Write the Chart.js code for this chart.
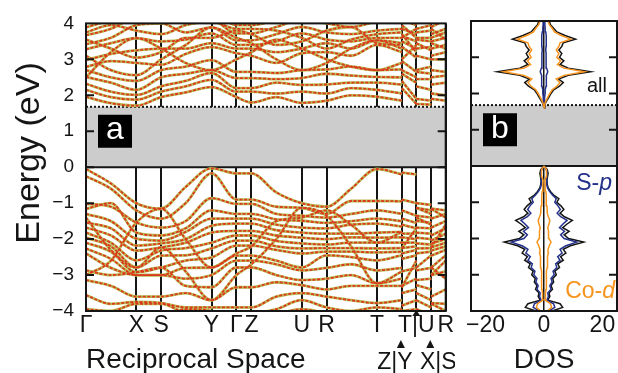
<!DOCTYPE html>
<html>
<head>
<meta charset="utf-8">
<script src="https://cdn.jsdelivr.net/npm/chart.js@4.4.1/dist/chart.umd.min.js"></script>
<style>
  html, body { margin: 0; padding: 0; background: #fff; }
  #wrap { position: relative; width: 618px; height: 373px; }
  #bands { position: absolute; left: 0; top: 0; }
  #dos { position: absolute; left: 455px; top: 0; }
</style>
</head>
<body>
<div id="wrap">
  <canvas id="bands" width="455" height="373"></canvas>
  <canvas id="dos" width="163" height="373"></canvas>
</div>
<script>
// k-path: distance along path, high-symmetry points and a few points in between
const kPos = [0, 25, 50.5, 75.5, 100, 126, 151, 166, 191, 216.5, 241.5, 266, 292, 317, 317, 331.5, 331.5, 346.5, 346.5, 361];
const kBreaks = [13, 15, 17]; // path jumps right after these indices
const symPos = [0, 50.5, 75.5, 126, 151, 166, 216.5, 241.5, 292, 317, 331.5, 346.5, 361];
const symLabels = ['Γ', 'X', 'S', 'Y', 'Γ', 'Z', 'U', 'R', 'T', '', 'T|U', '', 'R'];
const jumpPos = [317, 346.5];
const jumpLabels = ['Z|Y', 'X|S'];
const gapTop = 1.68;

// bands, energies (eV) at kPos
const condBands = [
  [1.96, 1.78, 1.71, 1.95, 2.08, 2.23, 1.95, 1.80, 1.95, 1.79, 1.85, 2.00, 1.96, 1.85, 2.20, 1.76, 1.76, 1.74, 1.90, 1.85],
  [2.15, 1.95, 1.88, 2.10, 2.25, 2.43, 2.10, 2.10, 2.05, 2.10, 2.05, 2.20, 2.15, 2.05, 2.40, 1.90, 1.90, 1.85, 2.05, 2.00],
  [2.32, 2.10, 2.01, 2.25, 2.40, 2.62, 2.20, 2.20, 2.35, 2.29, 2.30, 2.35, 2.35, 2.30, 2.60, 2.35, 2.25, 2.15, 2.30, 2.35],
  [2.51, 2.35, 2.15, 2.50, 2.60, 2.70, 2.48, 2.48, 2.45, 2.48, 2.60, 2.55, 2.51, 2.50, 2.70, 2.50, 2.45, 2.45, 2.50, 2.55],
  [2.70, 2.50, 2.40, 2.70, 2.80, 2.98, 2.65, 2.65, 2.62, 2.70, 2.72, 2.80, 2.70, 2.72, 2.95, 2.65, 2.65, 2.60, 2.70, 2.65],
  [2.79, 2.95, 2.90, 2.85, 3.15, 3.34, 3.17, 3.10, 2.90, 3.17, 3.20, 3.10, 3.40, 3.20, 3.35, 3.05, 3.10, 3.00, 3.10, 3.20],
  [2.98, 3.15, 3.25, 3.30, 3.30, 3.45, 3.30, 3.30, 3.20, 3.30, 3.45, 3.30, 3.53, 3.45, 3.50, 3.30, 3.30, 3.35, 3.30, 3.40],
  [3.28, 3.45, 3.59, 3.50, 3.55, 3.72, 3.40, 3.40, 3.50, 3.72, 3.55, 3.50, 3.60, 3.60, 3.65, 3.50, 3.55, 3.50, 3.50, 3.60],
  [3.42, 3.60, 3.95, 4.00, 3.75, 3.89, 3.53, 3.53, 3.70, 3.90, 3.75, 3.70, 3.80, 3.85, 3.85, 3.70, 3.75, 3.80, 3.70, 3.85],
  [3.67, 3.85, 4.20, 4.30, 4.10, 4.10, 3.72, 3.72, 3.90, 4.10, 4.00, 3.90, 4.05, 4.10, 4.10, 3.95, 4.00, 4.10, 3.90, 4.10],
  [3.89, 4.10, 4.40, 4.50, 4.30, 4.30, 3.95, 3.95, 4.10, 4.30, 4.20, 4.20, 4.30, 4.30, 4.30, 4.20, 4.20, 4.30, 4.20, 4.30],
  [3.10, 2.70, 2.56, 3.00, 3.40, 3.89, 3.60, 3.45, 3.00, 2.70, 2.90, 3.30, 3.53, 3.30, 3.70, 3.20, 2.70, 2.80, 3.00, 3.00],
  [2.50, 3.20, 3.59, 3.30, 2.90, 2.70, 3.00, 3.20, 3.55, 3.30, 3.00, 2.80, 2.70, 2.90, 3.00, 3.40, 3.60, 3.60, 3.45, 3.30],
  [3.55, 3.30, 3.05, 3.20, 3.60, 3.60, 3.80, 3.70, 3.40, 3.50, 3.80, 3.90, 3.45, 3.40, 3.60, 3.85, 3.45, 3.25, 3.60, 3.75],
  [3.75, 3.95, 3.80, 3.70, 3.95, 4.05, 3.85, 3.85, 3.80, 3.60, 3.30, 3.55, 3.70, 3.75, 3.95, 3.60, 3.85, 3.95, 3.85, 3.55]
];
const valBands = [
  [-0.05, -0.45, -1.00, -1.15, -0.55, -0.03, -0.17, -0.17, -0.70, -1.00, -1.10, -0.60, -0.05, -0.20, -0.15, -0.20, -1.00, -1.05, -1.15, -1.20],
  [-0.25, -0.60, -1.20, -1.43, -1.00, -0.17, -0.90, -0.90, -1.10, -1.13, -1.30, -0.94, -0.94, -0.95, -0.90, -1.00, -1.13, -1.20, -1.43, -1.30],
  [-1.02, -1.10, -1.54, -1.68, -1.50, -0.86, -1.02, -1.02, -1.30, -1.35, -1.40, -1.30, -1.20, -1.30, -1.20, -1.35, -1.35, -1.40, -1.68, -1.50],
  [-1.16, -1.00, -1.82, -1.90, -1.70, -1.20, -1.30, -1.30, -1.45, -1.49, -1.55, -1.50, -1.43, -1.50, -1.43, -1.55, -1.49, -1.55, -1.90, -1.70],
  [-1.30, -1.50, -1.99, -2.04, -1.80, -1.43, -1.43, -1.43, -1.60, -1.68, -1.70, -1.60, -1.57, -1.65, -1.60, -1.70, -1.68, -1.70, -2.04, -1.85],
  [-1.54, -1.70, -2.18, -2.12, -2.00, -1.63, -1.57, -1.57, -1.75, -1.82, -1.85, -1.85, -1.82, -1.80, -1.85, -1.85, -1.82, -1.85, -2.12, -2.00],
  [-1.68, -1.90, -2.32, -2.23, -2.10, -1.82, -1.77, -1.77, -1.90, -1.96, -2.00, -1.95, -1.96, -1.95, -1.95, -2.00, -1.96, -2.00, -2.23, -2.10],
  [-1.82, -2.10, -2.59, -2.32, -2.25, -2.10, -1.90, -1.90, -2.05, -2.12, -2.15, -2.10, -2.10, -2.10, -2.10, -2.10, -2.12, -2.15, -2.32, -2.20],
  [-1.96, -2.20, -2.79, -2.46, -2.45, -2.26, -2.04, -2.04, -2.20, -2.26, -2.25, -2.25, -2.26, -2.25, -2.25, -2.20, -2.26, -2.25, -2.46, -2.30],
  [-2.10, -2.35, -2.92, -2.79, -2.60, -2.51, -2.18, -2.18, -2.30, -2.40, -2.35, -2.35, -2.37, -2.35, -2.40, -2.30, -2.40, -2.35, -2.79, -2.45],
  [-2.26, -2.55, -3.00, -3.00, -2.80, -2.79, -2.46, -2.46, -2.60, -2.79, -2.45, -2.50, -2.59, -2.45, -2.55, -2.45, -2.79, -2.45, -3.00, -2.60],
  [-2.40, -2.80, -3.00, -3.00, -3.10, -3.00, -2.60, -2.60, -2.70, -2.87, -2.80, -2.70, -2.87, -2.80, -2.90, -2.80, -2.87, -2.80, -3.00, -2.90],
  [-2.87, -3.00, -2.92, -2.79, -3.30, -3.34, -2.79, -2.79, -3.00, -3.14, -3.10, -3.00, -3.23, -3.10, -3.30, -3.10, -3.14, -3.10, -2.79, -3.10],
  [-3.14, -3.30, -3.60, -3.60, -3.50, -3.70, -3.34, -3.34, -3.20, -3.28, -3.40, -3.30, -3.30, -3.30, -3.50, -3.40, -3.28, -3.40, -3.60, -3.40],
  [-3.56, -3.80, -3.75, -3.78, -3.90, -3.90, -3.90, -3.90, -3.60, -3.50, -3.60, -3.70, -3.78, -3.70, -3.85, -3.70, -3.50, -3.70, -3.78, -3.80],
  [-3.95, -4.00, -3.80, -3.80, -4.05, -4.10, -4.20, -4.10, -3.95, -3.70, -3.90, -4.00, -3.90, -3.95, -4.00, -3.95, -3.70, -3.90, -3.80, -4.00],
  [-4.10, -4.20, -4.30, -4.20, -3.95, -4.00, -4.30, -4.30, -4.10, -3.95, -4.05, -4.10, -4.10, -4.10, -4.20, -4.10, -3.95, -4.10, -4.20, -4.10],
  [-1.40, -2.30, -2.79, -2.23, -2.90, -3.70, -3.00, -2.70, -2.00, -1.13, -1.35, -2.20, -3.23, -2.90, -3.34, -2.60, -1.13, -1.30, -2.23, -1.60],
  [-3.00, -2.60, -1.54, -1.16, -2.00, -2.79, -2.40, -2.20, -1.50, -1.40, -1.20, -1.60, -2.10, -1.80, -2.26, -1.70, -1.40, -1.60, -1.16, -1.40]
];

// DOS (states/eV), spin up drawn right, spin down mirrored left
const dosEVal = [-4.0, -3.9, -3.8, -3.7, -3.6, -3.5, -3.4, -3.3, -3.2, -3.1, -3.0, -2.9, -2.8, -2.7, -2.6, -2.5, -2.4, -2.3, -2.2, -2.1, -2.0,
                 -1.9, -1.8, -1.7, -1.6, -1.5, -1.4, -1.3, -1.2, -1.1, -1.0, -0.9, -0.8, -0.7, -0.6, -0.5, -0.4, -0.3, -0.2, -0.1, 0.0];
const dosAllVal = [2.8, 6.4, 5.5, 1.3, 2.0, 1.7, 2.9, 2.4, 3.3, 3.0, 4.2, 3.7, 5.3, 4.7, 6.6, 5.7, 7.5, 6.6, 9.0, 13.6, 8.4,
                   6.9, 8.6, 6.4, 7.9, 9.7, 7.0, 5.5, 6.8, 5.8, 4.4, 5.1, 3.3, 2.2, 1.4, 1.1, 1.0, 1.2, 1.4, 1.1, 0];
const dosSpVal = [1.6, 3.7, 3.3, 1.0, 1.5, 1.3, 2.4, 2.0, 2.8, 2.4, 3.5, 3.1, 4.4, 4.0, 5.5, 4.7, 6.2, 5.5, 7.5, 11.2, 6.9,
                  5.7, 7.0, 5.3, 6.5, 7.9, 5.7, 4.5, 5.6, 4.8, 3.7, 4.2, 2.9, 1.9, 1.2, 0.9, 0.8, 1.0, 1.1, 0.8, 0];
const dosCoVal = [1.1, 2.6, 2.2, 0.4, 0.6, 0.4, 0.7, 0.7, 0.8, 0.8, 0.9, 0.9, 1.1, 1.1, 1.3, 1.2, 1.5, 1.4, 1.8, 2.4, 1.7,
                  1.4, 1.7, 1.3, 1.7, 2.0, 1.5, 1.1, 1.1, 1.0, 0.8, 0.8, 0.7, 0.6, 0.4, 0.4, 0.3, 0.7, 1.0, 0.7, 0];
const dosECond = [1.6, 1.7, 1.8, 1.9, 2.0, 2.1, 2.2, 2.3, 2.4, 2.5, 2.6, 2.7, 2.8, 2.9, 3.0, 3.1, 3.2, 3.3, 3.4, 3.5, 3.6, 3.7, 3.8, 3.9, 4.0];
const dosAllCond = [0, 0.3, 0.9, 1.7, 2.4, 3.3, 5.3, 6.6, 5.0, 8.3, 16.0, 8.3, 5.5, 6.8, 5.3, 6.1, 5.1, 6.1, 6.6, 10.8, 7.2, 4.4, 3.3, 2.2, 1.8];
const dosCoCond = [0, 0.2, 0.7, 1.3, 2.0, 2.8, 4.4, 5.5, 4.2, 6.9, 13.8, 6.8, 4.6, 5.7, 4.4, 5.1, 4.2, 5.1, 5.5, 9.1, 5.9, 3.6, 2.8, 1.8, 1.4];
const dosSpCond = [0, 0.1, 0.2, 0.3, 0.4, 0.4, 0.7, 0.8, 0.7, 0.9, 1.3, 0.9, 0.7, 0.8, 0.7, 0.7, 0.6, 0.7, 0.7, 0.9, 0.7, 0.6, 0.4, 0.3, 0.3];
const dosTicks = [-20, 0, 20];

const FONT = '"Liberation Sans", Arial, Helvetica, sans-serif';
const INK = '#151515';
const ORANGE = '#f7941d';
const NAVY = '#23318a';
Chart.defaults.font.family = FONT;
Chart.defaults.color = INK;

function bandPoints(vals) {
  const pts = [];
  vals.forEach((e, i) => {
    pts.push({ x: kPos[i], y: e });
    if (kBreaks.includes(i)) pts.push({ x: kPos[i], y: null });
  });
  return pts;
}

// green-yellow line under a red dash, like the original print
const bandSets = [];
[...condBands, ...valBands].forEach(b => {
  bandSets.push({ data: bandPoints(b), borderColor: '#b9bc52', borderWidth: 2.8, pointRadius: 0, order: 2,
    cubicInterpolationMode: 'monotone', spanGaps: false });
  bandSets.push({ data: bandPoints(b), borderColor: '#dc3820', borderWidth: 1.8, borderDash: [3, 1.6], pointRadius: 0, order: 1,
    cubicInterpolationMode: 'monotone', spanGaps: false });
});

function dosSide(valVals, condVals, sign) {
  const pts = dosEVal.map((e, i) => ({ x: sign * valVals[i], y: e }));
  pts.push({ x: null, y: 0.8 });
  dosECond.forEach((e, i) => pts.push({ x: sign * condVals[i], y: e }));
  return pts;
}
const dosSets = [];
[[dosAllVal, dosAllCond, INK, 3], [dosSpVal, dosSpCond, NAVY, 2], [dosCoVal, dosCoCond, ORANGE, 1]].forEach(([v, c, col, ord]) => {
  [1, -1].forEach(s => dosSets.push({ data: dosSide(v, c, s), borderColor: col, borderWidth: 1.5, order: ord,
    pointRadius: 0, tension: 0, spanGaps: false }));
});

// shared drawing helpers
function drawGap(chart) {
  const { ctx, chartArea: a, scales: { y } } = chart;
  const y0 = y.getPixelForValue(0), y1 = y.getPixelForValue(gapTop);
  ctx.save();
  ctx.fillStyle = '#cccccc';
  ctx.fillRect(a.left, y1, a.right - a.left, y0 - y1);
  ctx.strokeStyle = INK;
  ctx.lineWidth = 2;
  ctx.beginPath(); ctx.moveTo(a.left, y0); ctx.lineTo(a.right, y0); ctx.stroke();
  ctx.setLineDash([2, 2]);
  ctx.beginPath(); ctx.moveTo(a.left, y1); ctx.lineTo(a.right, y1); ctx.stroke();
  ctx.restore();
}
function drawFrame(chart) {
  const { ctx, chartArea: a, scales: { y } } = chart;
  ctx.save();
  ctx.strokeStyle = INK;
  ctx.lineWidth = 2;
  ctx.strokeRect(a.left, a.top, a.right - a.left, a.bottom - a.top);
  ctx.beginPath();
  y.ticks.forEach(t => {
    if (t.value <= y.min || t.value >= y.max) return;
    const py = y.getPixelForValue(t.value);
    ctx.moveTo(a.left, py); ctx.lineTo(a.left + 8, py);
    ctx.moveTo(a.right, py); ctx.lineTo(a.right - 8, py);
  });
  ctx.stroke();
  ctx.restore();
}
function drawTag(chart, letter) {
  const { ctx, chartArea: a, scales: { y } } = chart;
  const cy = y.getPixelForValue(1);
  ctx.save();
  ctx.fillStyle = '#000';
  ctx.fillRect(a.left + 12, cy - 16.5, 34, 33);
  ctx.fillStyle = '#fff';
  ctx.font = '32px ' + FONT;
  ctx.textAlign = 'center';
  ctx.fillText(letter, a.left + 29, cy + 8);
  ctx.restore();
}
function upTriangle(ctx, x, tipY, h, w) {
  ctx.beginPath();
  ctx.moveTo(x, tipY);
  ctx.lineTo(x - w, tipY + h);
  ctx.lineTo(x + w, tipY + h);
  ctx.closePath();
  ctx.fill();
}
function mixedText(ctx, parts, rightX, baseY, size, color) {
  // parts: [text, italic]
  const fonts = parts.map(p => (p[1] ? 'italic ' : '') + size + 'px ' + FONT);
  let w = 0;
  parts.forEach((p, i) => { ctx.font = fonts[i]; w += ctx.measureText(p[0]).width; });
  let x = rightX - w;
  ctx.fillStyle = color;
  ctx.textAlign = 'left';
  parts.forEach((p, i) => { ctx.font = fonts[i]; ctx.fillText(p[0], x, baseY); x += ctx.measureText(p[0]).width; });
}

const bandDecor = {
  id: 'bandDecor',
  beforeDatasetsDraw: chart => drawGap(chart),
  afterDraw(chart) {
    const { ctx, chartArea: a, scales: { x } } = chart;
    drawFrame(chart);
    drawTag(chart, 'a');
    ctx.save();
    ctx.fillStyle = INK;
    // axis title sits a bit above the axis centre in the original
    ctx.font = '34px ' + FONT;
    ctx.textAlign = 'center';
    ctx.textBaseline = 'middle';
    ctx.translate(30, 153);
    ctx.rotate(-Math.PI / 2);
    ctx.fillText('Energy (eV)', 0, 0);
    ctx.setTransform(1, 0, 0, 1, 0, 0);
    ctx.textBaseline = 'alphabetic';
    upTriangle(ctx, x.getPixelForValue(331.5), a.bottom - 1, 6, 4);
    ctx.font = '23px ' + FONT;
    jumpPos.forEach((k, i) => {
      const px = x.getPixelForValue(k);
      upTriangle(ctx, px - 1, 340, 8, 4);
      ctx.fillText(jumpLabels[i], px + (i === 0 ? -7 : 7), 369);
    });
    ctx.restore();
  }
};

const dosDecor = {
  id: 'dosDecor',
  beforeDatasetsDraw: chart => drawGap(chart),
  afterDraw(chart) {
    const { ctx } = chart;
    drawFrame(chart);
    drawTag(chart, 'b');
    ctx.save();
    mixedText(ctx, [['all', false]], 152, 92, 20, INK);
    mixedText(ctx, [['S-', false], ['p', true]], 157, 190, 23, NAVY);
    mixedText(ctx, [['Co-', false], ['d', true]], 160, 298, 23, ORANGE);
    ctx.restore();
  }
};

new Chart(document.getElementById('bands'), {
  type: 'line',
  data: { datasets: bandSets },
  options: {
    responsive: false,
    animation: false,
    events: [],
    layout: { padding: { top: 21, right: 9, left: 0, bottom: 0 } },
    plugins: { legend: { display: false }, tooltip: { enabled: false } },
    scales: {
      x: {
        type: 'linear', min: 0, max: 361, position: 'bottom', z: 1,
        afterBuildTicks: s => { s.ticks = symPos.map(v => ({ value: v })); },
        afterFit: s => { s.height = 62; },
        grid: { color: INK, lineWidth: 2, drawTicks: false },
        border: { display: false },
        ticks: { autoSkip: false, maxRotation: 0, padding: 1, font: { size: 23 },
          callback: (v, i) => symLabels[i] },
        title: { display: true, text: 'Reciprocal Space', align: 'start', font: { size: 28 },
          padding: { top: 0, bottom: -4 } }
      },
      y: {
        type: 'linear', min: -4, max: 4,
        afterFit: s => { s.width = 86; },
        grid: { display: false, drawTicks: false },
        border: { display: false },
        ticks: { stepSize: 1, padding: 12, font: { size: 19 },
          callback: v => (v < 0 ? '\u2212' + (-v) : String(v)) }
      }
    }
  },
  plugins: [bandDecor]
});

new Chart(document.getElementById('dos'), {
  type: 'line',
  data: { datasets: dosSets },
  options: {
    indexAxis: 'y',
    responsive: false,
    animation: false,
    events: [],
    layout: { padding: { top: 21, right: 1, left: 0, bottom: 0 } },
    plugins: { legend: { display: false }, tooltip: { enabled: false } },
    scales: {
      x: {
        type: 'linear', min: -25, max: 25, position: 'bottom', z: 1,
        afterBuildTicks: s => { s.ticks = dosTicks.map(v => ({ value: v })); },
        afterFit: s => { s.height = 62; },
        grid: { color: c => (c.tick && c.tick.value === 0 ? INK : 'rgba(0,0,0,0)'), lineWidth: 1.5, drawTicks: false },
        border: { display: false },
        ticks: { autoSkip: false, maxRotation: 0, padding: 1, font: { size: 23 },
          callback: v => (v < 0 ? '\u2212' + (-v) : String(v)) },
        title: { display: true, text: 'DOS', font: { size: 28 }, padding: { top: 0, bottom: -4 } }
      },
      y: {
        type: 'linear', min: -4, max: 4, position: 'left',
        afterFit: s => { s.width = 16; },
        grid: { display: false, drawTicks: false },
        border: { display: false },
        ticks: { display: false, stepSize: 1 }
      }
    }
  },
  plugins: [dosDecor]
});
</script>
</body>
</html>
